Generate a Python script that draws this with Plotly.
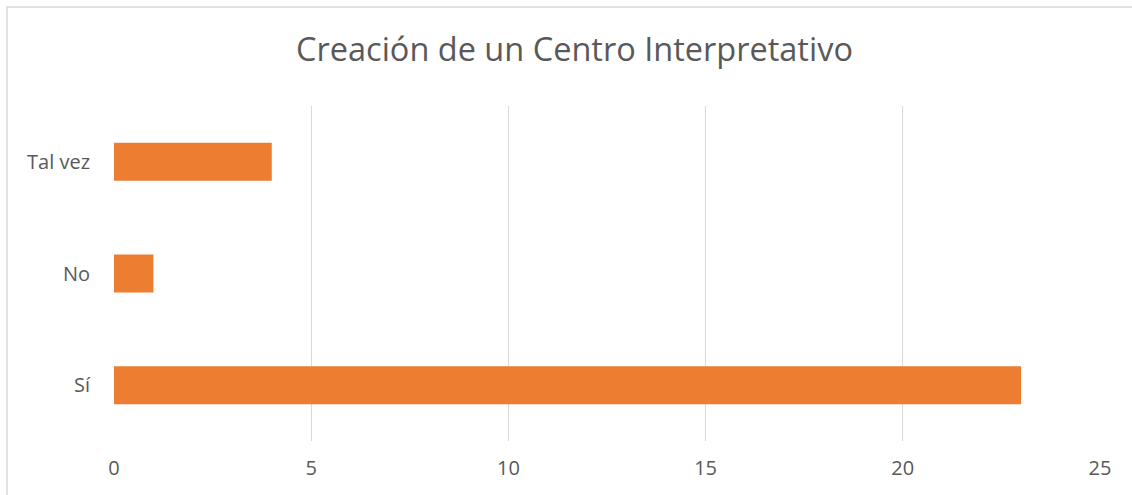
import plotly.graph_objects as go

# Respuestas de la encuesta
categorias = ["Sí", "No", "Tal vez"]
valores = [23, 1, 4]
ticks_x = [0, 5, 10, 15, 20, 25]

fig = go.Figure()

fig.add_trace(go.Bar(
    x=valores, y=categorias, orientation="h",
    marker=dict(color="#ED7D31", line=dict(width=0)),
    hoverinfo="x+y",
))

# left and top border of the chart area (cropped on the right/bottom)
fig.add_shape(type="rect", xref="paper", yref="paper",
              x0=(7 - 114) / 986, x1=1.2, y0=-0.5, y1=(441 - 7) / 335,
              line=dict(color="#d9d9d9", width=1.5), layer="below")

tick_font = dict(family="Open Sans", size=20, color="#595959")

fig.update_layout(
    width=1132, height=495,
    margin=dict(l=114, r=32, t=106, b=54, autoexpand=False),
    paper_bgcolor="white", plot_bgcolor="white",
    title=dict(text="Creación de un Centro Interpretativo",
               x=0.5075, xanchor="center", y=0.899, yanchor="middle",
               font=dict(family="Open Sans", size=32.5, color="#595959")),
    bargap=0.66,
    showlegend=False,
    xaxis=dict(range=[0, 25], tickvals=ticks_x, showgrid=True,
               gridcolor="#d9d9d9", gridwidth=1.3, zeroline=False,
               showline=False, ticklabelstandoff=13, fixedrange=True,
               automargin=False, tickfont=tick_font),
    yaxis=dict(showgrid=False, zeroline=False, showline=False,
               ticklabelstandoff=23, fixedrange=True,
               automargin=False, tickfont=tick_font),
)

# drop the default 8px page margin so the figure fills the window
fig.write_html("out.html", config={"displayModeBar": False},
               post_script="document.body.style.margin='0';")
